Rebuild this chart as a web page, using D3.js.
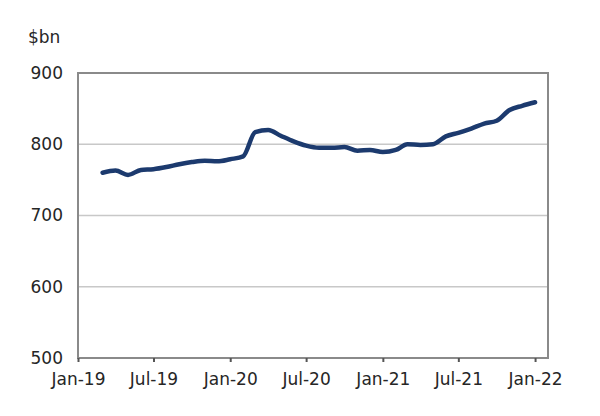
<!DOCTYPE html>
<html>
<head>
<meta charset="utf-8">
<script src="https://cdn.jsdelivr.net/npm/d3@7"></script>
<style>
  html, body { margin: 0; padding: 0; background: #fff; }
  svg { display: block; }
  text { font-family: "DejaVu Sans", Verdana, sans-serif; fill: #262626; }
</style>
</head>
<body>
<svg id="chart" width="600" height="416"></svg>
<script>
// Monthly values, Mar-19 .. Jan-22 ($bn)
const months = [
  "2019-03","2019-04","2019-05","2019-06","2019-07","2019-08","2019-09","2019-10","2019-11","2019-12",
  "2020-01","2020-02","2020-03","2020-04","2020-05","2020-06","2020-07","2020-08","2020-09","2020-10",
  "2020-11","2020-12","2021-01","2021-02","2021-03","2021-04","2021-05","2021-06","2021-07","2021-08",
  "2021-09","2021-10","2021-11","2021-12","2022-01"
];
const values = [
  760, 763, 757, 764, 765, 768, 772, 775, 777, 776,
  779, 783, 817, 820, 812, 804, 798, 795, 795, 796,
  791, 792, 789, 792, 800, 799, 800, 811, 816, 822,
  829, 833, 848, 854, 859
];
const yTicks = [500, 600, 700, 800, 900];
const xTickLabels = ["Jan-19","Jul-19","Jan-20","Jul-20","Jan-21","Jul-21","Jan-22"];
const xTickDates = ["2019-01","2019-07","2020-01","2020-07","2021-01","2021-07","2022-01"];
const unitLabel = "$bn";

const parse = d3.timeParse("%Y-%m");
const data = months.map((m, i) => ({ date: parse(m), value: values[i] }));

const svg = d3.select("#chart");
const mLeft = 78, mRight = 548, mTop = 73, mBottom = 358;

const x = d3.scaleTime()
  .domain([parse("2019-01"), new Date(2022, 1, 1)])
  .range([mLeft, mRight]);
const y = d3.scaleLinear().domain([500, 900]).range([mBottom, mTop]);

// gridlines
svg.append("g").selectAll("line")
  .data(yTicks.filter(t => t !== 500 && t !== 900))
  .join("line")
  .attr("x1", mLeft).attr("x2", mRight)
  .attr("y1", d => y(d)).attr("y2", d => y(d))
  .attr("stroke", "#c8c8c8").attr("stroke-width", 1.5);

// frame
svg.append("rect")
  .attr("x", mLeft).attr("y", mTop)
  .attr("width", mRight - mLeft).attr("height", mBottom - mTop)
  .attr("fill", "none").attr("stroke", "#8a8a8a").attr("stroke-width", 2);

// y axis labels
const yAxis = d3.axisLeft(y).tickValues(yTicks).tickSize(0).tickPadding(15);
const gy = svg.append("g").attr("transform", `translate(${mLeft},0)`).call(yAxis);
gy.select(".domain").remove();
gy.selectAll("text").style("font-size", "17px").attr("fill", "#262626");

// x axis
const xAxis = d3.axisBottom(x)
  .tickValues(xTickDates.map(parse))
  .tickFormat((d, i) => xTickLabels[i])
  .tickSize(4).tickPadding(11);
const gx = svg.append("g").attr("transform", `translate(0,${mBottom})`).call(xAxis);
gx.select(".domain").remove();
gx.selectAll("line").attr("stroke", "#555").attr("stroke-width", 2);
gx.selectAll("text").style("font-size", "17px").attr("fill", "#262626");

// unit label
svg.append("text")
  .attr("x", 28).attr("y", 43)
  .style("font-size", "17px")
  .text(unitLabel);

// line
const line = d3.line()
  .x(d => x(d.date))
  .y(d => y(d.value))
  .curve(d3.curveMonotoneX);
svg.append("path")
  .datum(data)
  .attr("d", line)
  .attr("fill", "none")
  .attr("stroke", "#1c3a6e")
  .attr("stroke-width", 4.5)
  .attr("stroke-linejoin", "round")
  .attr("stroke-linecap", "round");
</script>
</body>
</html>
